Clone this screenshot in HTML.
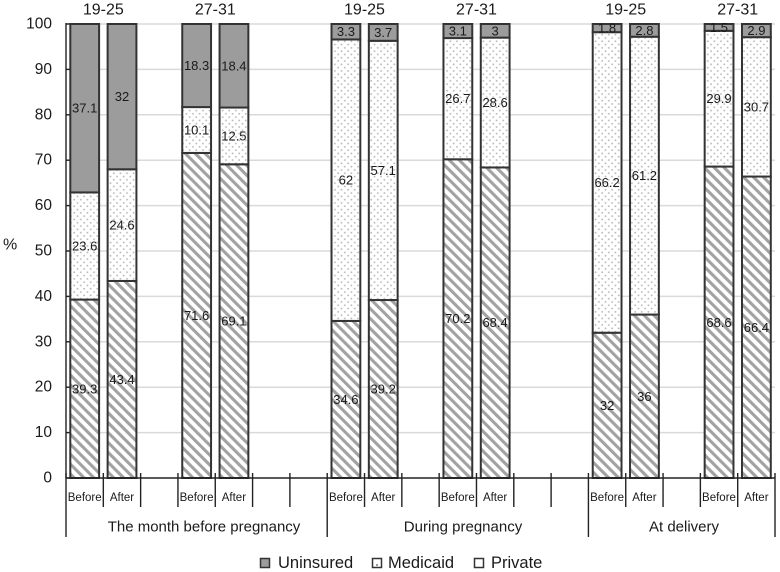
<!DOCTYPE html>
<html>
<head>
<meta charset="utf-8">
<style>
html,body{margin:0;padding:0;background:#fff;}
svg{display:block;}
text{font-family:"Liberation Sans",Arial,sans-serif;fill:#1a1a1a;}
</style>
</head>
<body>
<svg width="780" height="572" viewBox="0 0 780 572" xmlns="http://www.w3.org/2000/svg">
<defs>
<pattern id="dots" width="6.6" height="6.6" patternUnits="userSpaceOnUse">
<rect width="6.6" height="6.6" fill="#fff"/>
<circle cx="1.6" cy="1.6" r="0.95" fill="#bcbcbc"/>
<circle cx="4.9" cy="4.9" r="0.95" fill="#bcbcbc"/>
</pattern>
<pattern id="hatch" width="7" height="7" patternUnits="userSpaceOnUse" patternTransform="rotate(-45)">
<rect width="7" height="7" fill="#fff"/>
<rect x="0" y="0" width="3.1" height="7" fill="#a2a2a2"/>
</pattern>
</defs>

<!-- gridlines -->
<g stroke="#dadada" stroke-width="1.5">
<line x1="66" y1="432.6" x2="775" y2="432.6"/>
<line x1="66" y1="387.2" x2="775" y2="387.2"/>
<line x1="66" y1="341.8" x2="775" y2="341.8"/>
<line x1="66" y1="296.4" x2="775" y2="296.4"/>
<line x1="66" y1="251" x2="775" y2="251"/>
<line x1="66" y1="205.6" x2="775" y2="205.6"/>
<line x1="66" y1="160.2" x2="775" y2="160.2"/>
<line x1="66" y1="114.8" x2="775" y2="114.8"/>
<line x1="66" y1="69.4" x2="775" y2="69.4"/>
<line x1="66" y1="24" x2="775" y2="24"/>
</g>

<!-- y axis -->
<g stroke="#222" stroke-width="1.4">
<line x1="66" y1="23" x2="66" y2="478"/>
<line x1="66" y1="478" x2="71" y2="478"/>
<line x1="66" y1="432.6" x2="71" y2="432.6"/>
<line x1="66" y1="387.2" x2="71" y2="387.2"/>
<line x1="66" y1="341.8" x2="71" y2="341.8"/>
<line x1="66" y1="296.4" x2="71" y2="296.4"/>
<line x1="66" y1="251" x2="71" y2="251"/>
<line x1="66" y1="205.6" x2="71" y2="205.6"/>
<line x1="66" y1="160.2" x2="71" y2="160.2"/>
<line x1="66" y1="114.8" x2="71" y2="114.8"/>
<line x1="66" y1="69.4" x2="71" y2="69.4"/>
<line x1="66" y1="24" x2="71" y2="24"/>
</g>
<g font-size="15.5" text-anchor="end" dominant-baseline="central">
<text x="52" y="478">0</text>
<text x="52" y="432.6">10</text>
<text x="52" y="387.2">20</text>
<text x="52" y="341.8">30</text>
<text x="52" y="296.4">40</text>
<text x="52" y="251">50</text>
<text x="52" y="205.6">60</text>
<text x="52" y="160.2">70</text>
<text x="52" y="114.8">80</text>
<text x="52" y="69.4">90</text>
<text x="52" y="24">100</text>
</g>
<text x="3" y="245" font-size="16" dominant-baseline="central">%</text>

<!-- bars -->
<g stroke="#333" stroke-width="2">
<!-- slot 0 -->
<rect x="70.3" y="299.58" width="28.8" height="178.42" fill="url(#hatch)"/>
<rect x="70.3" y="192.43" width="28.8" height="107.15" fill="url(#dots)"/>
<rect x="70.3" y="24" width="28.8" height="168.43" fill="#9c9c9c"/>
<!-- slot 1 -->
<rect x="107.62" y="280.96" width="28.8" height="197.04" fill="url(#hatch)"/>
<rect x="107.62" y="169.28" width="28.8" height="111.68" fill="url(#dots)"/>
<rect x="107.62" y="24" width="28.8" height="145.28" fill="#9c9c9c"/>
<!-- slot 3 -->
<rect x="182.25" y="152.94" width="28.8" height="325.06" fill="url(#hatch)"/>
<rect x="182.25" y="107.08" width="28.8" height="45.86" fill="url(#dots)"/>
<rect x="182.25" y="24" width="28.8" height="83.08" fill="#9c9c9c"/>
<!-- slot 4 -->
<rect x="219.56" y="164.29" width="28.8" height="313.71" fill="url(#hatch)"/>
<rect x="219.56" y="107.54" width="28.8" height="56.75" fill="url(#dots)"/>
<rect x="219.56" y="24" width="28.8" height="83.54" fill="#9c9c9c"/>
<!-- slot 7 -->
<rect x="331.51" y="320.92" width="28.8" height="157.08" fill="url(#hatch)"/>
<rect x="331.51" y="39.44" width="28.8" height="281.48" fill="url(#dots)"/>
<rect x="331.51" y="24" width="28.8" height="15.44" fill="#9c9c9c"/>
<!-- slot 8 -->
<rect x="368.83" y="300.03" width="28.8" height="177.97" fill="url(#hatch)"/>
<rect x="368.83" y="40.8" width="28.8" height="259.23" fill="url(#dots)"/>
<rect x="368.83" y="24" width="28.8" height="16.8" fill="#9c9c9c"/>
<!-- slot 10 -->
<rect x="443.46" y="159.29" width="28.8" height="318.71" fill="url(#hatch)"/>
<rect x="443.46" y="38.07" width="28.8" height="121.22" fill="url(#dots)"/>
<rect x="443.46" y="24" width="28.8" height="14.07" fill="#9c9c9c"/>
<!-- slot 11 -->
<rect x="480.78" y="167.46" width="28.8" height="310.54" fill="url(#hatch)"/>
<rect x="480.78" y="37.62" width="28.8" height="129.84" fill="url(#dots)"/>
<rect x="480.78" y="24" width="28.8" height="13.62" fill="#9c9c9c"/>
<!-- slot 14 -->
<rect x="592.72" y="332.72" width="28.8" height="145.28" fill="url(#hatch)"/>
<rect x="592.72" y="32.17" width="28.8" height="300.55" fill="url(#dots)"/>
<rect x="592.72" y="24" width="28.8" height="8.17" fill="#9c9c9c"/>
<!-- slot 15 -->
<rect x="630.04" y="314.56" width="28.8" height="163.44" fill="url(#hatch)"/>
<rect x="630.04" y="36.71" width="28.8" height="277.85" fill="url(#dots)"/>
<rect x="630.04" y="24" width="28.8" height="12.71" fill="#9c9c9c"/>
<!-- slot 17 -->
<rect x="704.67" y="166.56" width="28.8" height="311.44" fill="url(#hatch)"/>
<rect x="704.67" y="30.81" width="28.8" height="135.75" fill="url(#dots)"/>
<rect x="704.67" y="24" width="28.8" height="6.81" fill="#9c9c9c"/>
<!-- slot 18 -->
<rect x="741.99" y="176.54" width="28.8" height="301.46" fill="url(#hatch)"/>
<rect x="741.99" y="37.17" width="28.8" height="139.37" fill="url(#dots)"/>
<rect x="741.99" y="24" width="28.8" height="13.17" fill="#9c9c9c"/>
</g>

<!-- value labels -->
<g font-size="13" text-anchor="middle" dominant-baseline="central">
<text x="84.7" y="388.8">39.3</text>
<text x="84.7" y="246">23.6</text>
<text x="84.7" y="108.2">37.1</text>
<text x="122" y="379.5">43.4</text>
<text x="122" y="225.1">24.6</text>
<text x="122" y="96.6">32</text>
<text x="196.6" y="315.5">71.6</text>
<text x="196.6" y="130">10.1</text>
<text x="196.6" y="65.5">18.3</text>
<text x="233.9" y="321.2">69.1</text>
<text x="233.9" y="135.9">12.5</text>
<text x="233.9" y="65.8">18.4</text>
<text x="345.9" y="399.5">34.6</text>
<text x="345.9" y="180.2">62</text>
<text x="345.9" y="31.7">3.3</text>
<text x="383.2" y="389">39.2</text>
<text x="383.2" y="170.4">57.1</text>
<text x="383.2" y="32.4">3.7</text>
<text x="457.8" y="318.7">70.2</text>
<text x="457.8" y="98.7">26.7</text>
<text x="457.8" y="31">3.1</text>
<text x="495.1" y="322.7">68.4</text>
<text x="495.1" y="102.5">28.6</text>
<text x="495.1" y="30.8">3</text>
<text x="607.1" y="405.4">32</text>
<text x="607.1" y="182.5">66.2</text>
<text x="607.1" y="28.1">1.8</text>
<text x="644.4" y="396.3">36</text>
<text x="644.4" y="175.6">61.2</text>
<text x="644.4" y="30.4">2.8</text>
<text x="719" y="322.3">68.6</text>
<text x="719" y="98.7">29.9</text>
<text x="719" y="27.4">1.5</text>
<text x="756.4" y="327.3">66.4</text>
<text x="756.4" y="106.9">30.7</text>
<text x="756.4" y="30.6">2.9</text>
</g>

<!-- top age labels -->
<g font-size="16" text-anchor="middle" dominant-baseline="central">
<text x="103.3" y="10">19-25</text>
<text x="215.3" y="10">27-31</text>
<text x="364.5" y="10">19-25</text>
<text x="476.5" y="10">27-31</text>
<text x="625.7" y="10">19-25</text>
<text x="737.7" y="10">27-31</text>
</g>

<!-- x axis -->
<g stroke="#222" stroke-width="1.4">
<line x1="66" y1="478" x2="775" y2="478"/>
<line x1="66" y1="473" x2="66" y2="537"/>
<line x1="103.32" y1="473" x2="103.32" y2="507"/>
<line x1="140.63" y1="473" x2="140.63" y2="507"/>
<line x1="177.95" y1="473" x2="177.95" y2="507"/>
<line x1="215.26" y1="473" x2="215.26" y2="507"/>
<line x1="252.58" y1="473" x2="252.58" y2="507"/>
<line x1="289.9" y1="473" x2="289.9" y2="507"/>
<line x1="327.21" y1="473" x2="327.21" y2="537"/>
<line x1="364.53" y1="473" x2="364.53" y2="507"/>
<line x1="401.84" y1="473" x2="401.84" y2="507"/>
<line x1="439.16" y1="473" x2="439.16" y2="507"/>
<line x1="476.48" y1="473" x2="476.48" y2="507"/>
<line x1="513.79" y1="473" x2="513.79" y2="507"/>
<line x1="551.11" y1="473" x2="551.11" y2="507"/>
<line x1="588.42" y1="473" x2="588.42" y2="537"/>
<line x1="625.74" y1="473" x2="625.74" y2="507"/>
<line x1="663.06" y1="473" x2="663.06" y2="507"/>
<line x1="700.37" y1="473" x2="700.37" y2="507"/>
<line x1="737.69" y1="473" x2="737.69" y2="507"/>
<line x1="775" y1="473" x2="775" y2="537"/>
</g>
<g font-size="11.5" text-anchor="middle" dominant-baseline="central">
<text x="84.7" y="498">Before</text>
<text x="122" y="498">After</text>
<text x="196.6" y="498">Before</text>
<text x="233.9" y="498">After</text>
<text x="345.9" y="498">Before</text>
<text x="383.2" y="498">After</text>
<text x="457.8" y="498">Before</text>
<text x="495.1" y="498">After</text>
<text x="607.1" y="498">Before</text>
<text x="644.4" y="498">After</text>
<text x="719" y="498">Before</text>
<text x="756.4" y="498">After</text>
</g>
<g font-size="15" text-anchor="middle" dominant-baseline="central">
<text x="204" y="527">The month before pregnancy</text>
<text x="463" y="527">During pregnancy</text>
<text x="684" y="527">At delivery</text>
</g>

<!-- legend -->
<g stroke="#333" stroke-width="1.5">
<rect x="260.5" y="558.5" width="9" height="9" fill="#9c9c9c"/>
<rect x="372.5" y="558.5" width="9" height="9" fill="#fff"/>
<rect x="474.5" y="558.5" width="9" height="9" fill="#fff"/>
</g>
<rect x="376" y="564" width="2" height="2" fill="#999"/>
<g font-size="16.5" dominant-baseline="central">
<text x="278" y="563">Uninsured</text>
<text x="388" y="563">Medicaid</text>
<text x="491" y="563">Private</text>
</g>
</svg>
</body>
</html>
